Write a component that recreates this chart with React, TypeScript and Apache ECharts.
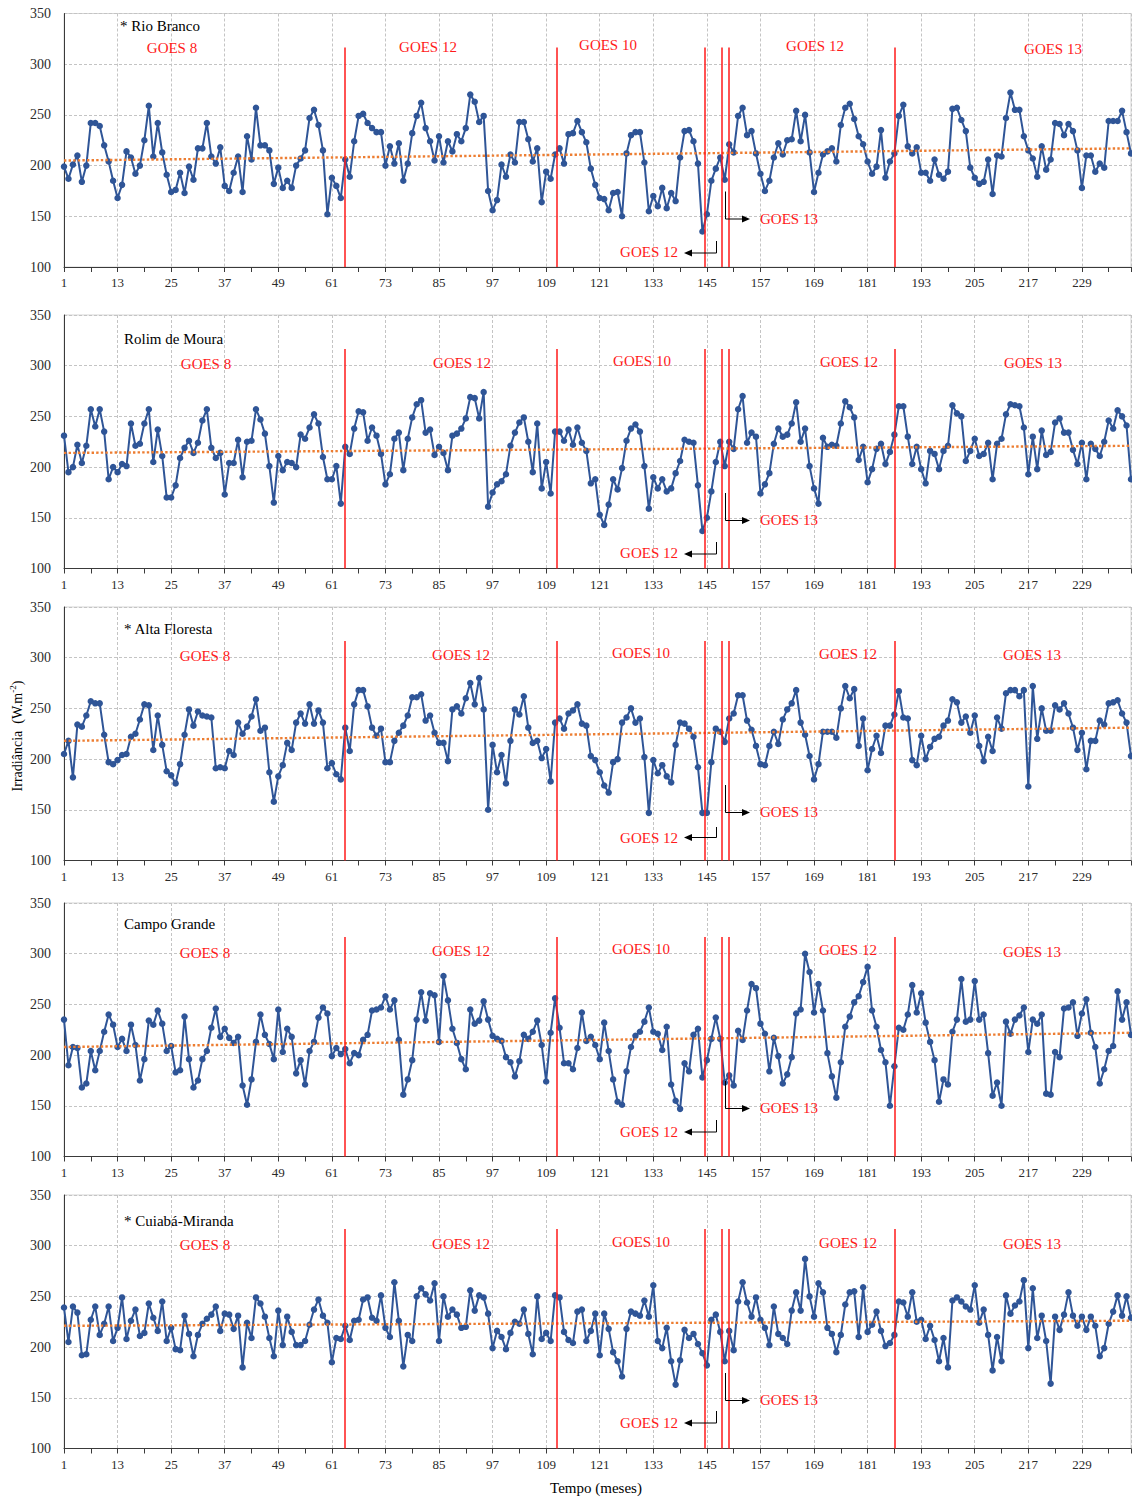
import React, { useEffect, useRef } from "react";
import * as echarts from "echarts";

// ---------- DATA ----------
const monthCount = 240;
const months = Array.from({ length: monthCount }, (_, i) => i + 1);

const stationNames = ["* Rio Branco", "Rolim de Moura", "* Alta Floresta", "Campo Grande", "* Cuiabá-Miranda"];
const goesPeriodLabels = ["GOES 8", "GOES 12", "GOES 10", "GOES 12", "GOES 13"];

const rioBranco = [
  199, 187, 201, 210, 184, 200, 242, 242, 239, 220,
  204, 185, 168, 181, 214, 208, 192, 200, 225, 259,
  209, 242, 213, 191, 174, 176, 193, 173, 199, 186,
  217, 217, 242, 209, 202, 218, 180, 175, 193, 209,
  174, 229, 206, 257, 220, 220, 215, 182, 198, 178,
  185, 178, 200, 207, 215, 247, 255, 240, 215, 152,
  188, 180, 168, 206, 189, 224, 249, 251, 242, 237,
  233, 233, 200, 219, 202, 222, 185, 202, 232, 249,
  262, 237, 224, 205, 229, 203, 224, 214, 231, 224,
  237, 270, 263, 243, 249, 175, 156, 166, 201, 189,
  211, 203, 243, 243, 226, 204, 217, 164, 194, 187,
  211, 217, 202, 231, 232, 244, 233, 223, 197, 181,
  168, 167, 156, 173, 174, 150, 212, 230, 233, 233,
  203, 155, 170, 160, 178, 158, 173, 165, 208, 234,
  235, 224, 202, 135, 152, 185, 197, 208, 186, 221,
  213, 249, 257, 230, 234, 212, 192, 175, 185, 208,
  222, 211, 225, 226, 254, 224, 250, 213, 174, 193,
  211, 214, 217, 204, 240, 257, 261, 246, 229, 221,
  204, 192, 199, 235, 188, 204, 212, 249, 260, 219,
  212, 218, 193, 193, 185, 206, 191, 187, 194, 256,
  257, 245, 234, 198, 188, 182, 184, 206, 172, 210,
  209, 247, 272, 255, 255, 229, 215, 207, 189, 219,
  196, 206, 242, 241, 230, 241, 234, 215, 178, 210,
  210, 194, 202, 198, 244, 244, 244, 254, 233, 212,
];

const rolimDeMoura = [
  231, 195, 200, 222, 204, 221, 257, 240, 257, 235,
  188, 200, 195, 203, 201, 243, 221, 223, 243, 257,
  205, 237, 211, 170, 170, 182, 209, 219, 226, 214,
  224, 246, 257, 219, 209, 214, 173, 204, 204, 227,
  190, 225, 226, 257, 247, 233, 201, 165, 211, 197,
  205, 204, 200, 232, 228, 239, 252, 243, 210, 188,
  188, 201, 164, 220, 213, 238, 255, 254, 226, 239,
  231, 213, 183, 193, 228, 234, 197, 228, 249, 262,
  266, 234, 237, 212, 220, 214, 197, 231, 233, 238,
  248, 269, 268, 248, 274, 161, 175, 183, 186, 193,
  221, 234, 244, 249, 225, 195, 243, 179, 205, 174,
  235, 235, 226, 237, 222, 239, 224, 216, 184, 188,
  153, 143, 163, 188, 178, 199, 226, 238, 242, 235,
  201, 159, 190, 179, 188, 176, 179, 194, 206, 227,
  225, 224, 182, 137, 150, 176, 205, 225, 201, 225,
  218, 257, 270, 224, 234, 230, 174, 183, 194, 223,
  238, 230, 232, 243, 264, 225, 238, 201, 179, 164,
  229, 220, 222, 221, 243, 265, 259, 249, 207, 220,
  185, 198, 218, 223, 203, 215, 232, 260, 260, 230,
  203, 220, 198, 184, 216, 213, 198, 216, 221, 261,
  253, 250, 206, 216, 228, 211, 213, 224, 188, 223,
  228, 252, 262, 261, 260, 239, 193, 230, 198, 236,
  212, 215, 244, 248, 234, 234, 217, 203, 224, 188,
  223, 218, 211, 225, 246, 238, 256, 250, 241, 188,
];

const altaFloresta = [
  205, 218, 182, 234, 232, 243, 257, 255, 255, 224,
  197, 195, 199, 204, 205, 222, 225, 239, 254, 253,
  209, 243, 214, 188, 184, 176, 195, 224, 249, 233,
  247, 243, 242, 241, 191, 192, 191, 208, 204, 236,
  225, 232, 242, 259, 228, 231, 187, 158, 183, 194,
  216, 209, 236, 245, 235, 254, 235, 248, 236, 191,
  196, 185, 180, 231, 208, 254, 268, 268, 252, 231,
  223, 230, 197, 197, 218, 226, 233, 243, 261, 261,
  264, 238, 243, 226, 216, 216, 198, 249, 252, 245,
  260, 275, 254, 280, 249, 150, 214, 187, 204, 176,
  218, 249, 244, 262, 231, 216, 218, 201, 210, 178,
  236, 240, 230, 245, 248, 254, 235, 233, 203, 199,
  187, 174, 167, 197, 200, 236, 241, 250, 236, 240,
  202, 147, 199, 186, 194, 183, 177, 214, 236, 235,
  230, 222, 192, 147, 147, 197, 230, 227, 217, 240,
  245, 263, 263, 238, 229, 213, 195, 194, 213, 227,
  215, 239, 249, 255, 268, 236, 224, 203, 180, 195,
  227, 227, 227, 221, 250, 272, 260, 269, 213, 240,
  189, 210, 223, 206, 233, 233, 244, 267, 241, 240,
  199, 194, 223, 200, 212, 220, 222, 233, 238, 259,
  256, 236, 242, 226, 243, 213, 198, 222, 208, 241,
  230, 265, 268, 268, 262, 268, 173, 272, 220, 250,
  228, 228, 253, 249, 255, 245, 231, 209, 226, 190,
  218, 218, 238, 234, 255, 256, 258, 245, 236, 203,
];

const campoGrande = [
  235, 190, 208, 207, 168, 172, 204, 185, 204, 223,
  240, 230, 208, 216, 204, 230, 210, 175, 196, 234,
  230, 244, 231, 204, 209, 183, 185, 238, 196, 168,
  175, 196, 204, 227, 246, 218, 226, 217, 212, 218,
  170, 151, 176, 213, 240, 220, 211, 196, 245, 203,
  226, 218, 182, 195, 171, 204, 213, 237, 247, 241,
  199, 207, 201, 206, 192, 202, 200, 215, 220, 244,
  245, 247, 258, 245, 254, 215, 161, 176, 195, 235,
  262, 234, 261, 259, 213, 278, 254, 226, 212, 196,
  186, 245, 231, 234, 253, 235, 219, 216, 214, 198,
  193, 179, 194, 220, 216, 223, 234, 210, 174, 222,
  256, 227, 192, 192, 186, 207, 242, 214, 218, 210,
  196, 232, 204, 176, 154, 151, 184, 208, 219, 223,
  233, 247, 223, 221, 205, 228, 171, 155, 147, 192,
  184, 220, 226, 178, 195, 216, 237, 216, 173, 180,
  170, 224, 215, 244, 270, 266, 231, 221, 184, 217,
  199, 172, 181, 198, 241, 245, 300, 282, 242, 270,
  244, 202, 179, 158, 193, 228, 238, 252, 258, 272,
  287, 244, 228, 205, 193, 150, 189, 227, 225, 240,
  269, 242, 261, 232, 213, 195, 154, 176, 171, 223,
  235, 275, 233, 235, 273, 235, 240, 202, 160, 173,
  150, 233, 221, 235, 239, 247, 203, 235, 231, 240,
  162, 161, 203, 198, 246, 247, 252, 219, 241, 255,
  222, 208, 172, 186, 204, 209, 263, 235, 252, 220,
];

const cuiabaMiranda = [
  239, 205, 240, 234, 192, 193, 227, 240, 212, 223,
  240, 206, 219, 249, 208, 226, 237, 211, 214, 243,
  229, 216, 245, 206, 219, 198, 197, 231, 213, 191,
  212, 223, 228, 232, 240, 216, 233, 232, 218, 231,
  180, 224, 209, 249, 243, 230, 209, 191, 236, 202,
  230, 215, 202, 202, 206, 222, 237, 247, 231, 224,
  185, 209, 208, 221, 207, 226, 227, 247, 249, 229,
  226, 251, 219, 210, 264, 226, 181, 212, 206, 250,
  258, 252, 246, 263, 206, 250, 230, 237, 232, 219,
  220, 256, 236, 251, 249, 233, 199, 216, 210, 198,
  214, 225, 223, 237, 213, 193, 250, 208, 214, 206,
  251, 249, 215, 207, 204, 235, 237, 206, 216, 233,
  192, 233, 218, 195, 186, 171, 218, 235, 233, 231,
  246, 230, 261, 206, 199, 219, 186, 163, 187, 217,
  209, 213, 203, 194, 182, 227, 232, 215, 186, 216,
  197, 245, 264, 244, 230, 249, 227, 219, 202, 240,
  213, 209, 203, 236, 254, 236, 287, 250, 230, 263,
  254, 219, 213, 195, 212, 242, 254, 255, 210, 259,
  215, 222, 235, 216, 201, 204, 212, 245, 244, 230,
  254, 225, 227, 208, 221, 207, 186, 209, 180, 246,
  249, 245, 240, 237, 261, 224, 237, 212, 177, 210,
  186, 251, 233, 241, 245, 266, 199, 258, 209, 231,
  206, 164, 230, 217, 232, 254, 231, 221, 230, 217,
  230, 221, 191, 199, 223, 235, 251, 231, 250, 229,
];

// linear trend (start value at month 1, end value at month 240)
const trendRioBranco = [205, 217];
const trendRolimDeMoura = [214, 221];
const trendAltaFloresta = [218, 231];
const trendCampoGrande = [208, 222];
const trendCuiabaMiranda = [221, 226];

// months where the satellite changes (red vertical lines) and their top value
const satelliteSwitchMonths = [63.8, 111.4, 144.6, 148.4, 149.8, 187.0];
const switchLineTop = 316.5;

const yMin = 100;
const yMax = 350;
const yStep = 50;
const xStep = 12;

const stationSeries = [rioBranco, rolimDeMoura, altaFloresta, campoGrande, cuiabaMiranda];
const stationTrends = [trendRioBranco, trendRolimDeMoura, trendAltaFloresta, trendCampoGrande, trendCuiabaMiranda];

// ---------- LAYOUT ----------
const FONT = '"Liberation Serif", "Times New Roman", serif';
const BLUE = "#2f5597";
const ORANGE = "#ed7d31";
const RED = "#ff1a1a";
const GRID_LEFT = 64;
const GRID_WIDTH = 1067;
const GRID_HEIGHT = 253.5;

const panelLayout = [
  { top: 13.5, titleX: 120, titleY: 12.5, goesX: [172, 428, 608, 815, 1053], goesY: [34, 33, 31, 32, 35], g12TextY: 238.5, g12ArrowTop: 227.5, g12ArrowY: 239.5 },
  { top: 315, titleX: 124, titleY: 24, goesX: [206, 462, 642, 849, 1033], goesY: [49, 48, 46, 47, 48], g12TextY: 238, g12ArrowTop: 227, g12ArrowY: 239 },
  { top: 607, titleX: 124, titleY: 21.5, goesX: [205, 461, 641, 848, 1032], goesY: [49, 48, 46, 47, 48], g12TextY: 230.5, g12ArrowTop: 220, g12ArrowY: 230.5 },
  { top: 903, titleX: 124, titleY: 21, goesX: [205, 461, 641, 848, 1032], goesY: [50, 48, 46, 47, 49], g12TextY: 229, g12ArrowTop: 217, g12ArrowY: 229 },
  { top: 1195, titleX: 124, titleY: 26, goesX: [205, 461, 641, 848, 1032], goesY: [50, 49, 47, 48, 49], g12TextY: 228, g12ArrowTop: 216, g12ArrowY: 228 },
];

function textEl(text: string, x: number, y: number, fill: string, size: number, align: string) {
  return {
    type: "text",
    x,
    y,
    z: 100,
    style: {
      text,
      fill,
      fontFamily: FONT,
      fontSize: size,
      align,
      verticalAlign: "middle",
      textAlign: align,
      textVerticalAlign: "middle",
    },
  };
}

function buildOption() {
  const grids: any[] = [];
  const xAxes: any[] = [];
  const yAxes: any[] = [];
  const series: any[] = [];
  const graphics: any[] = [];

  panelLayout.forEach((p, i) => {
    grids.push({
      left: GRID_LEFT,
      top: p.top,
      width: GRID_WIDTH,
      height: GRID_HEIGHT,
      show: true,
      borderColor: "#d4d4d4",
      borderWidth: 1,
      backgroundColor: "transparent",
    });
    xAxes.push({
      type: "value",
      gridIndex: i,
      min: months[0],
      max: months[months.length - 1],
      interval: xStep,
      axisLine: { show: true, onZero: false, lineStyle: { color: "#3a3a3a", width: 1 } },
      axisTick: { show: true, length: 5, lineStyle: { color: "#3a3a3a" } },
      minorTick: { show: true, splitNumber: 2, length: 5, lineStyle: { color: "#3a3a3a" } },
      axisLabel: { fontFamily: FONT, fontSize: 13, color: "#2b2b2b", margin: 9, showMaxLabel: false },
      splitLine: { show: true, lineStyle: { color: "#c4c4c4", type: [3, 2], width: 1 } },
    });
    yAxes.push({
      type: "value",
      gridIndex: i,
      min: yMin,
      max: yMax,
      interval: yStep,
      axisLine: { show: true, onZero: false, lineStyle: { color: "#3a3a3a", width: 1 } },
      axisTick: { show: false },
      axisLabel: { fontFamily: FONT, fontSize: 14, color: "#2b2b2b", margin: 13 },
      splitLine: { show: true, lineStyle: { color: "#c4c4c4", type: [3, 2], width: 1 } },
    });
    const values = stationSeries[i];
    series.push({
      type: "line",
      xAxisIndex: i,
      yAxisIndex: i,
      data: values.map((v, k) => [months[k], v]),
      symbol: "circle",
      symbolSize: 6.5,
      showAllSymbol: true,
      lineStyle: { color: BLUE, width: 2 },
      itemStyle: { color: BLUE },
      z: 3,
      silent: true,
    });
    const tr = stationTrends[i];
    series.push({
      type: "line",
      xAxisIndex: i,
      yAxisIndex: i,
      data: [
        [months[0], tr[0]],
        [months[months.length - 1], tr[1]],
      ],
      symbol: "none",
      lineStyle: { color: ORANGE, width: 2.4, type: [2.4, 2.2] },
      z: 4,
      silent: true,
      markLine: {
        silent: true,
        symbol: ["none", "none"],
        label: { show: false },
        lineStyle: { color: RED, width: 1.5, type: "solid" },
        data: satelliteSwitchMonths.map((m) => [
          { coord: [m, switchLineTop] },
          { coord: [m, yMin] },
        ]),
      },
    });

    // texts
    graphics.push(textEl(stationNames[i], p.titleX, p.top + p.titleY, "#000", 15, "left"));
    goesPeriodLabels.forEach((lab, j) => {
      graphics.push(textEl(lab, p.goesX[j], p.top + p.goesY[j], RED, 15, "center"));
    });
    // GOES 13 arrow (down then right)
    graphics.push({
      type: "polyline",
      z: 100,
      shape: { points: [[725.5, p.top + 178], [725.5, p.top + 205.5], [743, p.top + 205.5]] },
      style: { stroke: "#000", lineWidth: 1, fill: null },
    });
    graphics.push({
      type: "polygon",
      z: 100,
      shape: { points: [[742, p.top + 202], [750, p.top + 205.5], [742, p.top + 209]] },
      style: { fill: "#000" },
    });
    graphics.push(textEl("GOES 13", 760, p.top + 205, RED, 15, "left"));
    // GOES 12 arrow (down then left)
    graphics.push({
      type: "polyline",
      z: 100,
      shape: { points: [[716.5, p.top + p.g12ArrowTop], [716.5, p.top + p.g12ArrowY], [691, p.top + p.g12ArrowY]] },
      style: { stroke: "#000", lineWidth: 1, fill: null },
    });
    graphics.push({
      type: "polygon",
      z: 100,
      shape: { points: [[692, p.top + p.g12ArrowY - 3.5], [684, p.top + p.g12ArrowY], [692, p.top + p.g12ArrowY + 3.5]] },
      style: { fill: "#000" },
    });
    graphics.push(textEl("GOES 12", 678, p.top + p.g12TextY, RED, 15, "right"));
  });

  // axis titles
  graphics.push({
    type: "text",
    x: 17,
    y: 736,
    rotation: Math.PI / 2,
    z: 100,
    style: {
      text: "{a|Irradiância  (W.m}{b|-2}{a|)}",
      fill: "#000",
      align: "center",
      verticalAlign: "middle",
      textAlign: "center",
      textVerticalAlign: "middle",
      rich: {
        a: { fontFamily: FONT, fontSize: 14, fill: "#000" },
        b: { fontFamily: FONT, fontSize: 9, fill: "#000", padding: [0, 0, 8, 0] },
      },
    },
  });
  graphics.push(textEl("Tempo (meses)", 596, 1488, "#000", 15, "center"));

  return {
    animation: false,
    backgroundColor: "#ffffff",
    grid: grids,
    xAxis: xAxes,
    yAxis: yAxes,
    series,
    graphic: { elements: graphics },
  };
}

export default function App() {
  const ref = useRef<HTMLDivElement>(null);
  useEffect(() => {
    if (!ref.current) return;
    const chart = echarts.init(ref.current, undefined, { renderer: "svg" });
    chart.setOption(buildOption() as any);
    return () => chart.dispose();
  }, []);
  return (
    <div
      ref={ref}
      style={{ position: "absolute", left: 0, top: 0, width: 1132, height: 1501, background: "#fff" }}
    />
  );
}
